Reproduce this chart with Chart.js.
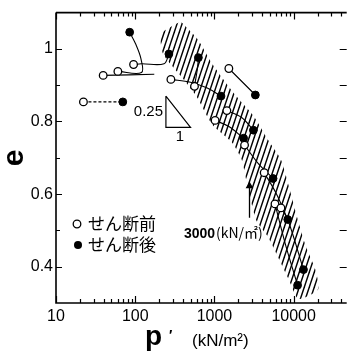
<!DOCTYPE html>
<html><head><meta charset="utf-8">
<script src="https://cdn.jsdelivr.net/npm/chart.js@4.4.0/dist/chart.umd.min.js"></script>
<style>html,body{margin:0;padding:0;background:#fff;overflow:hidden}</style>
</head><body>
<canvas id="c" width="352" height="355" style="display:block;width:352px;height:355px"></canvas>
<script>
// ---- data ----
const xTickValues = [10, 100, 1000, 10000];
const yTickValues = [0.4, 0.6, 0.8, 1.0];
const xRange = [10, 46700];
const yRange = [0.3, 1.1];
const seriesLabels = ['せん断前', 'せん断後'];

// p' (kN/m2), e  -- before shear (open) and after shear (filled)
const beforeShear = [[22.2,0.854],[39.4,0.927],[60.4,0.938],[95.3,0.957],[282,0.916],[560,0.897],[1520,0.946],
  [1019,0.803],[1435,0.830],[2399,0.735],[4246,0.659],[5808,0.573],[6900,0.562]];
const afterShear = [[69.7,0.854],[85.1,1.046],[266,0.986],[627,0.976],[1209,0.870],[3284,0.873],[3104,0.776],
  [2333,0.754],[5495,0.643],[8420,0.530],[13300,0.392],[11200,0.349]];

// stress paths joining before/after states
const dashedPath = [[22.2,0.854],[69.7,0.854]];
const shearPaths = [
  [[39.4,0.927],[174,0.930]],
  [[60.4,0.938],[120,0.935],[118,0.973],[101,1.014],[85.1,1.046]],
  [[95.3,0.957],[120,0.959],[231,0.959],[266,0.986]],
  [[282,0.916],[499,0.908],[811,0.892],[1209,0.870]],
  [[560,0.897],[610,0.946],[627,0.976]],
  [[1520,0.946],[3284,0.873]],
  [[1019,0.803],[1520,0.786],[2333,0.754]],
  [[1435,0.830],[2203,0.811],[3104,0.776]],
  [[2399,0.735],[3581,0.684],[5495,0.643]],
  [[4246,0.659],[5981,0.603],[8420,0.530]],
  [[5808,0.573],[7900,0.460],[11200,0.349]],
  [[6900,0.562],[8420,0.530],[13300,0.392]]
];

// hatched band outline
const bandUpper = [[375,1.076],[610,1.027],[935,0.959],[1754,0.878],[3104,0.816],[4764,0.749],[6901,0.695],
  [8670,0.622],[11200,0.532],[14090,0.459],[18750,0.392],[20400,0.338]];
const bandLower = [[11530,0.311],[8670,0.365],[4764,0.481],[3381,0.527],[2541,0.635],[2203,0.695],[1656,0.743],
  [935,0.792],[610,0.865],[397,0.919],[225,0.986],[212,1.041]];

const slopeTriangle = [[244,0.870],[244,0.784],[499,0.784],[244,0.870]];
const arrowLine = [[2770,0.535],[2770,0.622]];

// ---- build ----
const toXY = a => a.map(p => ({x:p[0], y:p[1]}));

function hatchPattern(){
  const c = document.createElement('canvas');
  c.width = 5; c.height = 15;
  const g = c.getContext('2d');
  g.strokeStyle = '#000'; g.lineWidth = 1.4;
  for (const dx of [-5,0,5]) {
    g.beginPath(); g.moveTo(dx - 1/3, 16); g.lineTo(dx + 5 + 1/3, -1); g.stroke();
  }
  return g.createPattern(c, 'repeat');
}

const datasets = [
  {label: seriesLabels[0], data: toXY(beforeShear), pointStyle:'circle', pointRadius:3.8,
   pointBackgroundColor:'#fff', pointBorderColor:'#000', pointBorderWidth:1.3, showLine:false},
  {label: seriesLabels[1], data: toXY(afterShear), pointStyle:'circle', pointRadius:3.9,
   pointBackgroundColor:'#000', pointBorderColor:'#000', pointBorderWidth:1, showLine:false},
  {data: toXY(dashedPath), showLine:true, borderColor:'#000', borderWidth:1.1, borderDash:[3,2], pointRadius:0}
];
shearPaths.forEach(p => datasets.push({data: toXY(p), showLine:true, borderColor:'#000', borderWidth:1.1,
  pointRadius:0, tension:0.35}));
datasets.push({data: toXY(slopeTriangle), showLine:true, borderColor:'#000', borderWidth:1.2, pointRadius:0});
datasets.push({data: toXY(arrowLine), showLine:true, borderColor:'#000', borderWidth:1.3,
  pointRadius:[0,3.2], pointStyle:'triangle', pointBackgroundColor:'#000', pointBorderColor:'#000'});
const bandPoly = bandUpper.concat(bandLower, [bandUpper[0]]);
datasets.push({data: toXY(bandPoly), showLine:true, fill:'shape', backgroundColor: hatchPattern(),
  borderColor:'rgba(0,0,0,0)', borderWidth:0, pointRadius:0, tension:0.2});

const deco = {
  id:'deco',
  afterDraw(chart){
    const {ctx, chartArea:a, scales:{x, y}} = chart;
    ctx.save();
    ctx.strokeStyle = '#000';
    ctx.lineWidth = 1.6;
    ctx.beginPath();
    ctx.moveTo(a.left, a.top); ctx.lineTo(a.left, a.bottom); ctx.lineTo(a.right, a.bottom);
    ctx.moveTo(a.left, a.top); ctx.lineTo(a.right, a.top);
    ctx.stroke();
    ctx.lineWidth = 1.2;
    ctx.beginPath();
    for (let d = 10; d < xRange[1]; d *= 10) {
      for (let m = 1; m <= 9; m++) {
        const v = m * d;
        if (v > xRange[1]) break;
        const px = Math.round(x.getPixelForValue(v)) + 0.5;
        const len = m === 1 ? 7 : 4;
        ctx.moveTo(px, a.bottom); ctx.lineTo(px, a.bottom - len);
        ctx.moveTo(px, a.top); ctx.lineTo(px, a.top + len);
      }
    }
    for (let i = 4; i <= 10; i++) {
      const v = i / 10;
      const py = Math.round(y.getPixelForValue(v)) + 0.5;
      ctx.moveTo(a.left, py); ctx.lineTo(a.left + (i % 2 === 0 ? 6 : 4), py);
      ctx.moveTo(a.right, py); ctx.lineTo(a.right - 7, py);
    }
    ctx.stroke();

    ctx.fillStyle = '#000';
    ctx.textBaseline = 'middle';
    // axis titles
    ctx.save();
    ctx.translate(15, 158); ctx.rotate(-Math.PI/2);
    ctx.font = 'bold 30px "Liberation Sans", Arial, sans-serif';
    ctx.textAlign = 'center';
    ctx.fillText('e', 0, 0);
    ctx.restore();
    ctx.textAlign = 'left';
    ctx.textBaseline = 'alphabetic';
    ctx.font = 'bold 28px "Liberation Sans", Arial, sans-serif';
    ctx.fillText('p', 145, 345);
    ctx.font = 'bold 14px "Liberation Sans", Arial, sans-serif';
    ctx.fillText('\u2032', 169, 340);
    ctx.font = '17px "Liberation Sans", Arial, sans-serif';
    ctx.fillText('(kN/m\u00B2)', 192, 346);
    // slope triangle labels
    ctx.font = '15px "Liberation Sans", Arial, sans-serif';
    ctx.textAlign = 'right'; ctx.textBaseline = 'middle';
    ctx.fillText('0.25', 163, 112);
    ctx.textAlign = 'center';
    ctx.fillText('1', 180, 137);
    // 3000 annotation
    ctx.textAlign = 'left';
    ctx.font = 'bold 14px "Liberation Sans", Arial, sans-serif';
    ctx.fillText('3000', 184, 234);
    ctx.font = '14px "Noto Sans CJK JP", sans-serif';
    ctx.fillText('(kN/\u33A1)', 216, 233);
    // legend
    ctx.lineWidth = 1.3;
    ctx.beginPath(); ctx.arc(77, 224, 3.8, 0, Math.PI*2);
    ctx.fillStyle = '#fff'; ctx.fill(); ctx.stroke();
    ctx.beginPath(); ctx.arc(78, 245, 4, 0, Math.PI*2);
    ctx.fillStyle = '#000'; ctx.fill();
    ctx.font = '17px "Noto Sans CJK JP", sans-serif';
    ctx.fillText(seriesLabels[0], 88, 224);
    ctx.fillText(seriesLabels[1], 88, 245);
    ctx.restore();
  }
};

new Chart(document.getElementById('c'), {
  type: 'scatter',
  data: {datasets},
  options: {
    responsive: false, animation: false, devicePixelRatio: 1,
    layout: {padding: {top: 7, right: 0, left: 0, bottom: 0}},
    plugins: {legend: {display:false}, tooltip: {enabled:false}},
    scales: {
      x: {type:'logarithmic', min:xRange[0], max:xRange[1],
        grid:{display:false, drawTicks:false}, border:{display:false},
        afterBuildTicks: s => { s.ticks = xTickValues.map(v => ({value:v})); },
        afterFit: s => { s.height = 52; },
        ticks:{padding:4, color:'#000', font:{family:'"Liberation Sans", Arial, sans-serif', size:16},
          maxRotation:0, autoSkip:false, callback: v => String(v)}},
      y: {min:yRange[0], max:yRange[1],
        grid:{display:false, drawTicks:false}, border:{display:false},
        afterBuildTicks: s => { s.ticks = yTickValues.map(v => ({value:v})); },
        afterFit: s => { s.width = 56; },
        ticks:{padding:3, color:'#000', font:{family:'"Liberation Sans", Arial, sans-serif', size:16},
          callback: v => (Math.abs(v - 1) < 1e-9 ? '1' : v.toFixed(1))}}
    }
  },
  plugins: [deco]
});
</script>
</body></html>
